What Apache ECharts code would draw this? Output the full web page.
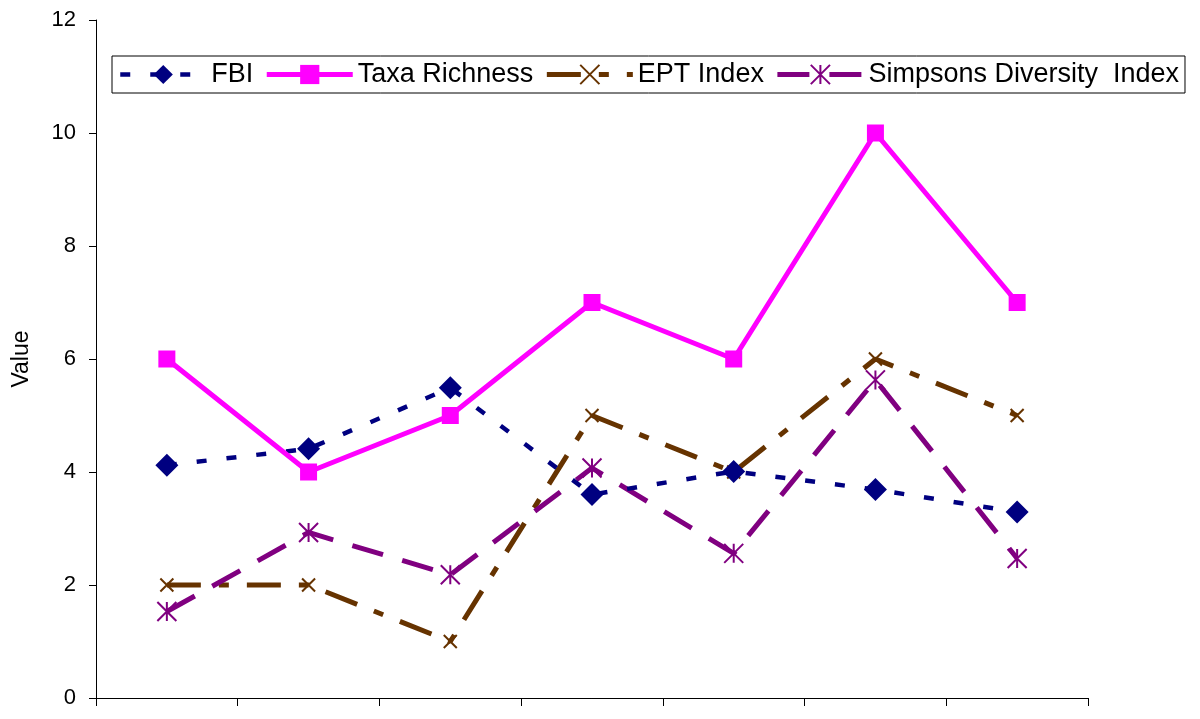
<!DOCTYPE html>
<html>
<head>
<meta charset="utf-8">
<script src="https://cdn.jsdelivr.net/npm/echarts@6/dist/echarts.min.js"></script>
<style>
  html, body { margin: 0; padding: 0; background: #fff; }
  #chart { width: 1200px; height: 719px; }
</style>
</head>
<body>
<div id="chart"></div>
<script>
// Sampling sites along the x axis (labels are not displayed)
const categories = ['1', '2', '3', '4', '5', '6', '7'];

// Index values per site
const fbi = [4.12, 4.41, 5.49, 3.60, 4.01, 3.69, 3.29];
const taxaRichness = [6, 4, 5, 7, 6, 10, 7];
const eptIndex = [2, 2, 1, 5, 4, 6, 5];
const simpsons = [1.53, 2.93, 2.18, 4.07, 2.56, 5.63, 2.47];

// Y axis range
const yMin = 0, yMax = 12, yStep = 2;

const FONT = '"Liberation Sans", Arial, sans-serif';

// Stroked marker shapes
const crossPath = 'path://M0 0 L10 10 M10 0 L0 10';
const starPath = 'path://M0 0 L10 10 M10 0 L0 10 M5 0 L5 10';

const chart = echarts.init(document.getElementById('chart'), null, { renderer: 'canvas' });

chart.setOption({
  animation: false,
  backgroundColor: '#ffffff',
  grid: { left: 96, right: 112, top: 20, bottom: 21, containLabel: false },
  legend: {
    left: 112,
    top: 56,
    padding: [5, 6],
    itemWidth: 86,
    itemHeight: 24,
    itemGap: 11,
    borderColor: '#000',
    borderWidth: 1,
    lineStyle: { width: 'inherit' },
    textStyle: { fontFamily: FONT, fontSize: 27, color: '#000' },
    data: ['FBI', 'Taxa Richness', 'EPT Index', 'Simpsons Diversity  Index']
  },
  xAxis: {
    type: 'category',
    data: categories,
    boundaryGap: true,
    axisLine: { lineStyle: { color: '#000', width: 1 } },
    axisTick: { show: true, length: 8, inside: false, lineStyle: { color: '#000' } },
    axisLabel: { show: false },
    splitLine: { show: false }
  },
  yAxis: {
    type: 'value',
    min: yMin,
    max: yMax,
    interval: yStep,
    name: 'Value',
    nameLocation: 'middle',
    nameGap: 63,
    nameTextStyle: { fontFamily: FONT, fontSize: 23, color: '#000' },
    axisLine: { show: true, lineStyle: { color: '#000', width: 1 } },
    axisTick: { show: true, length: 7, inside: false, lineStyle: { color: '#000' } },
    axisLabel: { fontFamily: FONT, fontSize: 22, color: '#000', margin: 20 },
    splitLine: { show: false }
  },
  series: [
    {
      name: 'FBI',
      type: 'line',
      data: fbi,
      symbol: 'diamond',
      symbolSize: [23, 23],
      itemStyle: { color: '#000080' },
      lineStyle: { color: '#000080', width: 4.5, type: [10, 20], cap: 'butt' },
      z: 3
    },
    {
      name: 'Taxa Richness',
      type: 'line',
      data: taxaRichness,
      symbol: 'rect',
      symbolSize: 17,
      itemStyle: { color: '#ff00ff' },
      lineStyle: { color: '#ff00ff', width: 5, type: 'solid' },
      z: 4
    },
    {
      name: 'EPT Index',
      type: 'line',
      data: eptIndex,
      symbol: crossPath,
      symbolSize: 13,
      itemStyle: { color: 'none', borderColor: '#663300', borderWidth: 2 },
      lineStyle: { color: '#663300', width: 5, type: [34, 18, 10, 18], cap: 'butt' },
      z: 2
    },
    {
      name: 'Simpsons Diversity  Index',
      type: 'line',
      data: simpsons,
      symbol: starPath,
      symbolSize: 19,
      itemStyle: { color: 'none', borderColor: '#800080', borderWidth: 2 },
      lineStyle: { color: '#800080', width: 5, type: [32, 20], cap: 'butt' },
      z: 2
    }
  ]
});
</script>
</body>
</html>
